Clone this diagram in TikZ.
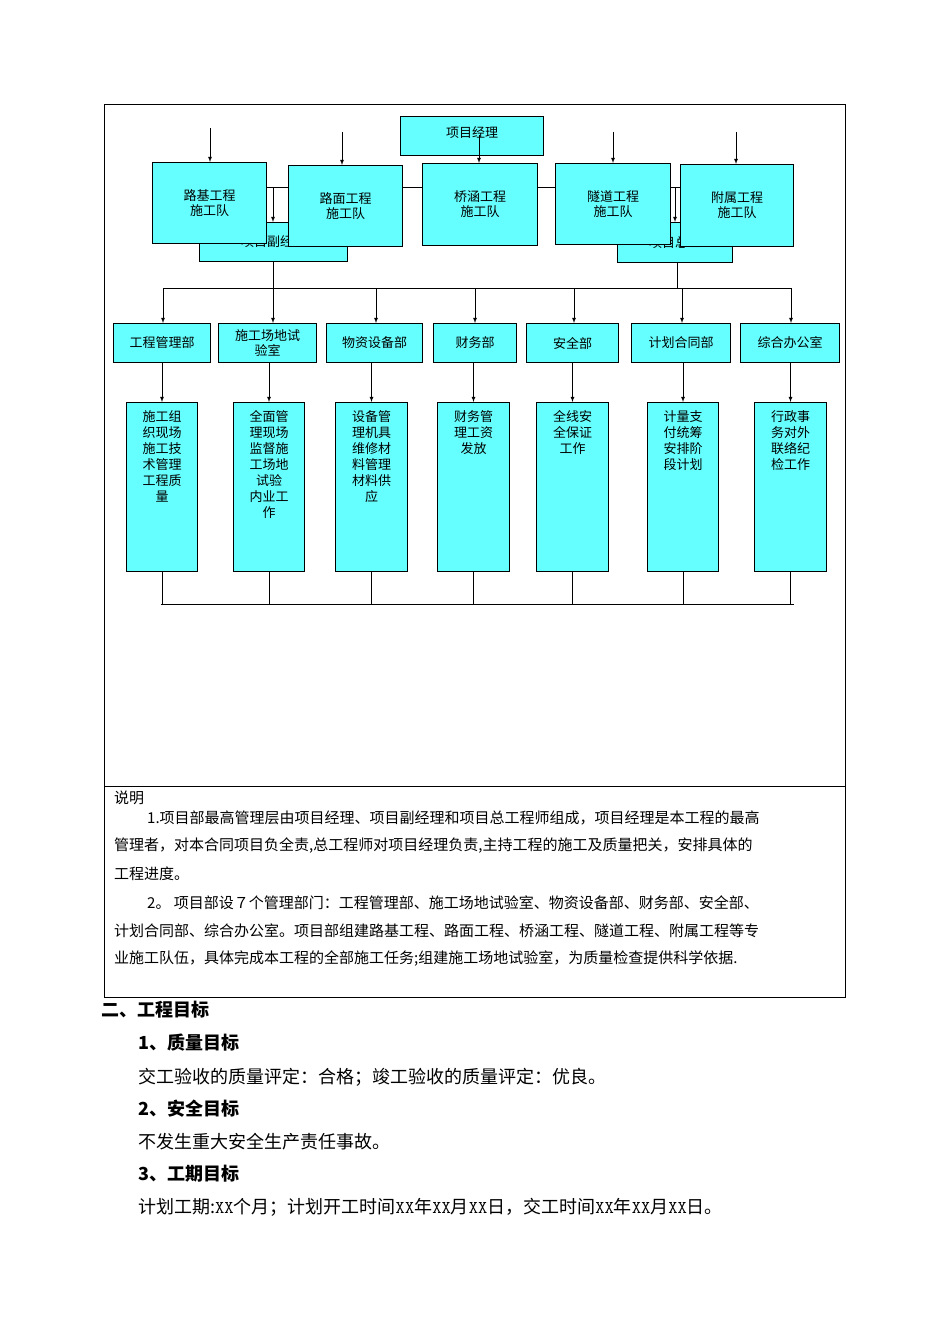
\documentclass[tikz,border=0pt]{standalone}
\usepackage{fontspec}
\setmainfont{Noto Sans CJK SC}
\definecolor{cy}{HTML}{66FFFF}
\begin{document}
\begin{tikzpicture}[x=1pt,y=-1pt,
 bx/.style={draw,fill=cy,line width=1pt,inner sep=0pt,font=\fontsize{13}{15}\selectfont,align=center},
 ar/.style={-latex,line width=0.8pt},
 ln/.style={line width=0.9pt},
 tx/.style={anchor=west,inner sep=0pt,font=\fontsize{15}{17}\selectfont},
 hd/.style={anchor=west,inner sep=0pt,font=\fontsize{18}{20}\selectfont\bfseries},
 bd/.style={anchor=west,inner sep=0pt,font=\fontsize{18}{20}\selectfont}]
\useasboundingbox (0,0) rectangle (950,1344);
\draw[line width=0.6pt] (104,104) rectangle (845,997);
\draw[line width=0.6pt] (104,786) -- (845,786);
% top
\coordinate (hl) at (266,187); \coordinate (hr) at (680,187);
\draw[ln] (hl) -- (hr);
\node[bx,minimum width=148,minimum height=39,anchor=north west] (fu) at (199,222) {项目副经理};
\node[bx,minimum width=115,minimum height=40,anchor=north west] (zg) at (617,222) {项目总工};
\draw[ar] (273,187) -- (273,222);
\draw[ar] (675,187) -- (675,222);
\node[bx,minimum width=114,minimum height=81,anchor=north west] (lj) at (152,162) {路基工程\\施工队};
\node[bx,minimum width=114,minimum height=81,anchor=north west] (lm) at (288,165) {路面工程\\施工队};
\node[bx,minimum width=115,minimum height=82,anchor=north west] (qh) at (422,163) {桥涵工程\\施工队};
\node[bx,minimum width=115,minimum height=81,anchor=north west] (sd) at (555,163) {隧道工程\\施工队};
\node[bx,minimum width=113,minimum height=82,anchor=north west] (fs) at (680,164) {附属工程\\施工队};
\node[bx,minimum width=143,minimum height=39,anchor=north west] (jl) at (400,116) {\raisebox{8pt}{项目经理}};
\coordinate (a1) at (210,128); \coordinate (a2) at (342,132); \coordinate (a3) at (479,135);
\coordinate (a4) at (613,132); \coordinate (a5) at (736,132);
\draw[ar] (a1) -- (lj.north -| a1);
\draw[ar] (a2) -- (lm.north -| a2);
\draw[ar] (a3) -- (qh.north -| a3);
\draw[ar] (a4) -- (sd.north -| a4);
\draw[ar] (a5) -- (fs.north -| a5);
% bus
\draw[ln] (273,261) -- (273,288);
\draw[ln] (677,262) -- (677,288);
\draw[ln] (163,288) -- (792,288);
\foreach \n/\a/\b/\t/\c/\xa/\xb/\bc in {
 d1/113/210/工程管理部/163/126/197/施工组\\织现场\\施工技\\术管理\\工程质\\量,
 d2/218/316/施工场地试\\验室/273/233/304/全面管\\理现场\\监督施\\工场地\\试验\\内业工\\作,
 d3/326/422/物资设备部/376/335/407/设备管\\理机具\\维修材\\料管理\\材料供\\应,
 d4/433/516/财务部/475/437/509/财务管\\理工资\\发放,
 d5/526/618/安全部/574/536/608/全线安\\全保证\\工作,
 d6/631/730/计划合同部/682/647/718/计量支\\付统筹\\安排阶\\段计划,
 d7/740/839/综合办公室/791/754/826/行政事\\务对外\\联络纪\\检工作}{
 \node[bx,minimum width=\b-\a,minimum height=39,anchor=north west,align=center] (\n) at (\a,323) {\t};
 \draw[ar] (\c,288) -- (\c,323);
 \node[bx,minimum width=\xb-\xa,minimum height=169,anchor=north west] (\n b) at (\xa,402) {};
 \node[anchor=north,inner sep=0pt,align=center,font=\fontsize{13}{16}\selectfont] at (\n b.north) [yshift=-8pt] {\bc};
 \draw[ar] (\n b.north |- \n.south) -- (\n b.north);
 \draw[ln] (\n b.south) -- (\n b.south |- 0,604);
}
\draw[ln] (161,604) -- (794,604);
% text
\node[tx] at (114,798) {说明};
\node[tx] at (147,818) {1.项目部最高管理层由项目经理、项目副经理和项目总工程师组成，项目经理是本工程的最高};
\node[tx] at (114,846) {管理者，对本合同项目负全责,总工程师对项目经理负责,主持工程的施工及质量把关，安排具体的};
\node[tx] at (114,874) {工程进度。};
\node[tx] at (147,903) {2。 项目部设７个管理部门：工程管理部、施工场地试验室、物资设备部、财务部、安全部、};
\node[tx] at (114,931) {计划合同部、综合办公室。项目部组建路基工程、路面工程、桥涵工程、隧道工程、附属工程等专};
\node[tx] at (114,959) {业施工队伍，具体完成本工程的全部施工任务;组建施工场地试验室，为质量检查提供科学依据.};
\node[hd] at (101,1010) {二、工程目标};
\node[hd] at (138,1043) {1、质量目标};
\node[bd] at (138,1077) {交工验收的质量评定：合格；竣工验收的质量评定：优良。};
\node[hd] at (138,1109) {2、安全目标};
\node[bd] at (138,1142) {不发生重大安全生产责任事故。};
\node[hd] at (138,1174) {3、工期目标};
\node[bd] at (138,1207) {计划工期:{\ttfamily XX}个月；计划开工时间{\ttfamily XX}年{\ttfamily XX}月{\ttfamily XX}日，交工时间{\ttfamily XX}年{\ttfamily XX}月{\ttfamily XX}日。};
\end{tikzpicture}
\end{document}
